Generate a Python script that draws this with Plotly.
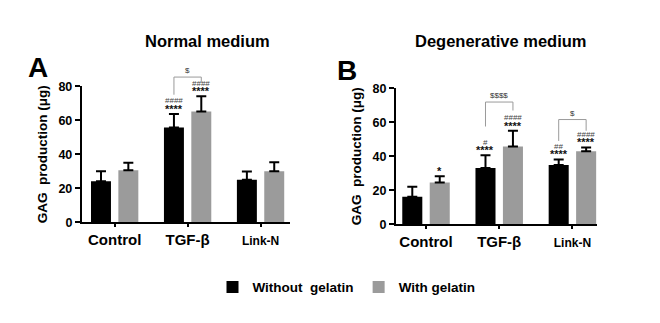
import plotly.graph_objects as go
from plotly.subplots import make_subplots

categories = ["Control", "TGF-β", "Link-N"]
tick_labels = ["Control", "TGF-β", "<span style='font-size:12px'>Link-N</span>"]

# Panel A: Normal medium
a_without = [24.2, 55.8, 25.0]
a_without_err = [5.8, 8.0, 4.9]
a_with = [30.6, 65.2, 30.0]
a_with_err = [4.4, 9.0, 5.3]

# Panel B: Degenerative medium
b_without = [16.2, 33.1, 34.8]
b_without_err = [5.9, 7.5, 3.3]
b_with = [24.6, 45.8, 43.0]
b_with_err = [3.7, 9.2, 2.2]

series_names = ["Without  gelatin", "With gelatin"]
colors = ["#000000", "#9b9b9b"]

# significance labels: (panel, category index, series index, [lines bottom->top])
sig_marks = [
    (1, 1, 0, ["****", "####"]),
    (1, 1, 1, ["****", "####"]),
    (2, 0, 1, ["*"]),
    (2, 1, 0, ["****", "#"]),
    (2, 1, 1, ["****", "####"]),
    (2, 2, 0, ["****", "##"]),
    (2, 2, 1, ["****", "####"]),
]
# brackets: (panel, category index, top value, left bottom, right bottom, label)
brackets = [
    (1, 1, 85.5, 75.1, 82.3, "$"),
    (2, 1, 71.9, 57.5, 66.9, "$$$$"),
    (2, 2, 61.6, 49.0, 55.0, "$"),
]

YMAX = 80
FAM = "Liberation Sans, Arial"
fig = make_subplots(rows=1, cols=2)

panels = {1: (a_without, a_without_err, a_with, a_with_err),
          2: (b_without, b_without_err, b_with, b_with_err)}
for col, (w0, e0, w1, e1) in panels.items():
    for s, (vals, errs) in enumerate([(w0, e0), (w1, e1)]):
        fig.add_trace(go.Bar(
            x=categories, y=vals, name=series_names[s].replace("  ", "\u00a0 "),
            marker=dict(color=colors[s], line=dict(width=0)),
            error_y=dict(type="data", symmetric=False, array=errs,
                         arrayminus=[0] * len(errs), color="#000000",
                         thickness=2, width=5),
            showlegend=(col == 1), legendgroup=str(s),
        ), row=1, col=col)

BAR_OFF = 0.1875
annos = []
for col, ci, si, lines in sig_marks:
    w0, e0, w1, e1 = panels[col]
    top = (w0[ci] + e0[ci]) if si == 0 else (w1[ci] + e1[ci])
    xpos = ci + (-BAR_OFF if si == 0 else BAR_OFF)
    xr = "x" if col == 1 else "x2"
    yr = "y" if col == 1 else "y2"
    shifts = [5, 12]
    for li, txt in enumerate(lines):
        is_star = "*" in txt
        annos.append(dict(
            x=xpos, y=top, xref=xr, yref=yr, text=txt, showarrow=False,
            xanchor="center", yanchor="middle",
            yshift=(shifts[li] if is_star else shifts[li] + 1),
            font=dict(family=FAM, size=11 if is_star else 8,
                      color="#111111" if is_star else "#444444",
                      weight="bold" if is_star else "normal"),
        ))

shapes = []
for col, ci, ytop, yl, yrb, label in brackets:
    xr = "x" if col == 1 else "x2"
    yr = "y domain" if col == 1 else "y2 domain"
    xl = ci - BAR_OFF
    xrr = ci + BAR_OFF
    shapes.append(dict(type="path", xref=xr, yref=yr,
                       path=f"M {xl},{yl / YMAX} L {xl},{ytop / YMAX} L {xrr},{ytop / YMAX} L {xrr},{yrb / YMAX}",
                       line=dict(color="#9a9a9a", width=1)))
    annos.append(dict(x=ci, y=ytop / YMAX, xref=xr, yref=yr, text=label,
                      showarrow=False, xanchor="center", yanchor="bottom", yshift=0,
                      font=dict(family=FAM, size=8, color="#333333")))

annos += [
    dict(x=0.314, y=0.889, xref="paper", yref="paper", text="Normal medium",
         xanchor="center", yanchor="middle", showarrow=False,
         font=dict(family=FAM, size=16.5, color="#000", weight="bold")),
    dict(x=0.759, y=0.889, xref="paper", yref="paper", text="Degenerative medium",
         xanchor="center", yanchor="middle", showarrow=False,
         font=dict(family=FAM, size=16.5, color="#000", weight="bold")),
    dict(x=0.0576, y=0.805, xref="paper", yref="paper", text="A",
         xanchor="center", yanchor="middle", showarrow=False,
         font=dict(family=FAM, size=28, color="#000", weight="bold")),
    dict(x=0.525, y=0.794, xref="paper", yref="paper", text="B",
         xanchor="center", yanchor="middle", showarrow=False,
         font=dict(family=FAM, size=28, color="#000", weight="bold")),
]

axis_common = dict(showline=True, linecolor="#000", linewidth=2, ticks="outside",
                   tickcolor="#000", tickwidth=1.5, showgrid=False, zeroline=False)
fig.update_xaxes(**axis_common, ticklen=3, tickvals=categories, ticktext=tick_labels,
                 tickfont=dict(family=FAM, size=15, color="#000", weight="bold"))
fig.update_yaxes(**axis_common, ticklen=5, range=[0, YMAX], dtick=20,
                 tickfont=dict(family=FAM, size=12.5, color="#000", weight="bold"),
                 title=dict(text="GAG  production (μg)".replace("  ", "\u00a0 "), standoff=8,
                            font=dict(family=FAM, size=13.5, color="#000", weight="bold")))
fig.update_layout(
    xaxis=dict(domain=[0.124, 0.439], range=[-0.45, 2.4]),
    xaxis2=dict(domain=[0.600, 0.905], range=[-0.41, 2.34]),
    yaxis=dict(domain=[0.3034, 0.743]),
    yaxis2=dict(domain=[0.297, 0.737]),
)

fig.update_layout(
    width=660, height=323, margin=dict(l=0, r=0, t=0, b=0),
    paper_bgcolor="white", plot_bgcolor="white",
    barmode="group", bargap=0.25, bargroupgap=0.27,
    annotations=annos, shapes=shapes,
    legend=dict(orientation="h", x=0.525, xanchor="center", y=0.093, yanchor="middle",
                font=dict(family=FAM, size=13.5, color="#000", weight="bold"),
                itemwidth=30, traceorder="normal"),
    font=dict(family=FAM),
)

fig.write_html("out.html")
